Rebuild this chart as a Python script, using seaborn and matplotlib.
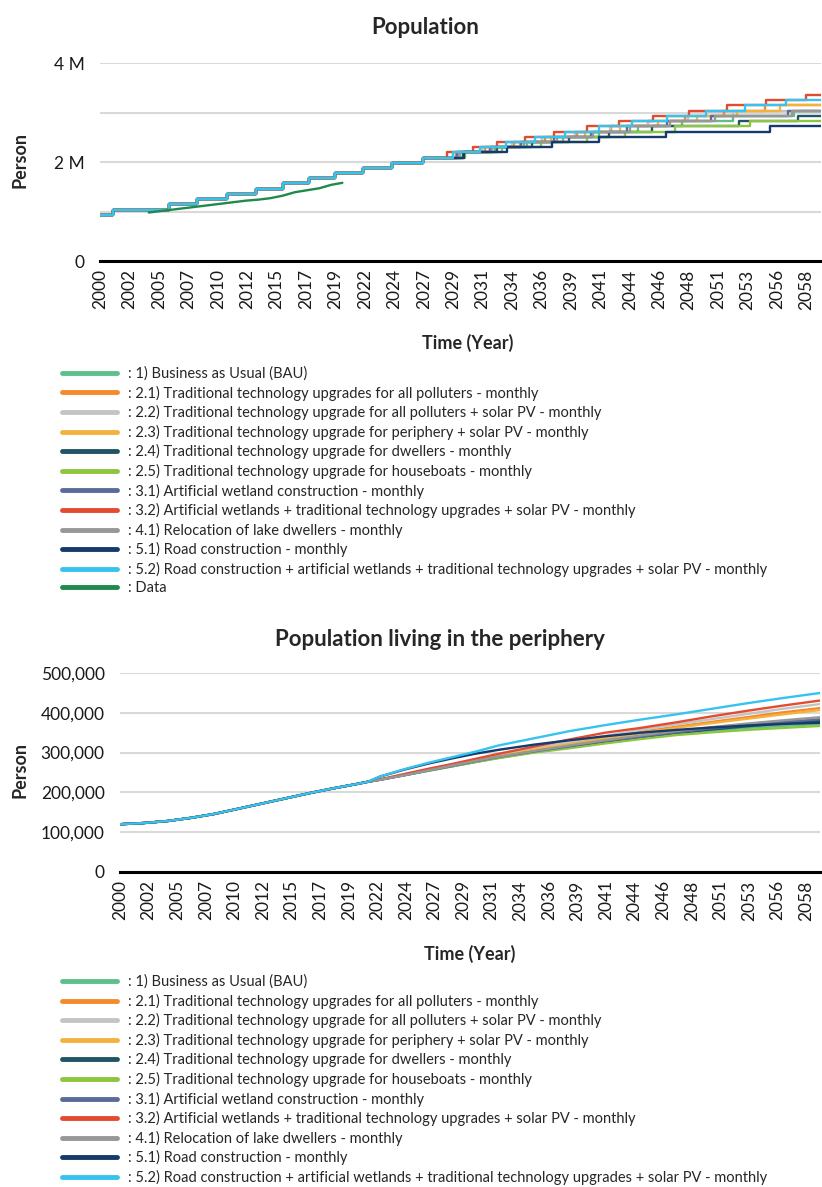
import matplotlib
matplotlib.use("Agg")
import numpy as np
import pandas as pd
import matplotlib.pyplot as plt
from matplotlib.lines import Line2D
from matplotlib.ticker import FuncFormatter
import seaborn as sns

sns.set_theme(style="white")
plt.rcParams["font.family"] = ["Lato", "DejaVu Sans"]

# ---------------------------------------------------------------- scenarios
scenario_labels = [
    ": 1) Business as Usual (BAU)",
    ": 2.1) Traditional technology upgrades for all polluters - monthly",
    ": 2.2) Traditional technology upgrade for all polluters + solar PV - monthly",
    ": 2.3) Traditional technology upgrade for periphery + solar PV - monthly",
    ": 2.4) Traditional technology upgrade for dwellers - monthly",
    ": 2.5) Traditional technology upgrade for houseboats - monthly",
    ": 3.1) Artificial wetland construction - monthly",
    ": 3.2) Artificial wetlands + traditional technology upgrades + solar PV - monthly",
    ": 4.1) Relocation of lake dwellers - monthly",
    ": 5.1) Road construction - monthly",
    ": 5.2) Road construction + artificial wetlands + traditional technology upgrades + solar PV - monthly",
]
data_label = ": Data"
scenario_colors = ["#5dbf8c", "#f58a2c", "#c4c4c4", "#f4b23c", "#1f5566", "#8cc63f",
                   "#5b6b99", "#e24b2f", "#979797", "#143b6c", "#36c3ef"]
data_color = "#1f8a4b"

# x axis ticks (every 29 months from Jan 2000) and their labels
tick_years = [2000 + k * 29 / 12 for k in range(25)]
tick_labels = ["2000", "2002", "2005", "2007", "2010", "2012", "2015", "2017", "2019",
               "2022", "2024", "2027", "2029", "2031", "2034", "2036", "2039", "2041",
               "2044", "2046", "2048", "2051", "2053", "2056", "2058"]

# ---------------------------------------------------------------- population (millions)
trunk_step_years = [2000.0, 2001.1, 2005.7, 2008.0, 2010.4, 2012.8, 2015.0, 2017.2,
                    2019.3, 2021.6, 2024.0, 2026.5]
trunk_levels = [0.93, 1.04, 1.15, 1.25, 1.35, 1.45, 1.57, 1.67, 1.78, 1.87, 1.99, 2.09]
later_levels = [2.20, 2.31, 2.40, 2.51, 2.61, 2.73, 2.83, 2.93, 3.04, 3.15, 3.25, 3.36]

bau_steps = [2029.6, 2032.4, 2035.1, 2038.0, 2041.0, 2044.2, 2047.8, 2052.0, 2057.0]
tt_all_steps = [2029.2, 2031.6, 2034.0, 2036.5, 2039.2, 2042.0, 2045.0, 2048.0, 2051.2, 2054.6]
tt_pv_steps = [2029.0, 2031.4, 2033.8, 2036.3, 2039.0, 2041.9, 2045.0, 2048.3, 2052.0]
tt_periph_steps = [2029.5, 2032.0, 2034.5, 2037.0, 2039.8, 2042.7, 2045.8, 2049.0, 2052.3, 2055.8]
tt_dwell_steps = [2029.8, 2032.6, 2035.5, 2038.5, 2041.8, 2045.3, 2052.5, 2057.3]
tt_boat_steps = [2030.0, 2033.0, 2036.2, 2040.0, 2043.1, 2047.2, 2053.4]
wetland_steps = [2029.3, 2032.0, 2034.6, 2037.3, 2040.3, 2043.3, 2046.6, 2050.2, 2056.5]
wetland_combo_steps = [2028.5, 2030.6, 2032.6, 2034.9, 2037.3, 2040.0, 2042.6, 2045.4,
                       2048.4, 2051.5, 2054.7, 2058.0]
relocation_steps = [2029.5, 2032.2, 2034.8, 2037.5, 2040.5, 2043.5, 2046.8, 2050.5, 2056.8]
road_steps = [2029.9, 2033.4, 2037.1, 2041.0, 2046.5, 2055.0]
road_combo_steps = [2029.0, 2031.2, 2033.3, 2035.7, 2038.2, 2041.0, 2043.7, 2046.6,
                    2049.8, 2053.0, 2056.3]

pop_steps = [bau_steps, tt_all_steps, tt_pv_steps, tt_periph_steps, tt_dwell_steps,
             tt_boat_steps, wetland_steps, wetland_combo_steps, relocation_steps,
             road_steps, road_combo_steps]

data_years = [2004, 2005, 2006, 2007, 2008, 2009, 2010, 2011, 2012, 2013, 2014, 2015,
              2016, 2017, 2018, 2019, 2019.9]
data_pop_m = [0.98, 1.01, 1.04, 1.07, 1.10, 1.13, 1.16, 1.19, 1.22, 1.24, 1.27, 1.32,
              1.39, 1.43, 1.47, 1.54, 1.58]

# ---------------------------------------------------------------- periphery (thousands)
periph_trunk_years = [2000, 2002, 2004, 2006, 2008, 2010, 2012, 2014, 2016, 2018, 2020, 2021]
periph_trunk_k = [120, 123, 128, 136, 146, 159, 172, 185, 198, 210, 221, 227]
periph_years = [2022, 2024, 2026, 2028, 2030, 2032, 2035, 2038, 2041, 2044, 2047, 2050,
                2053, 2056, 2059.2]

bau_periph = [232, 243, 254, 265, 276, 287, 301, 313, 325, 336, 346, 355, 362, 367, 372]
tt_all_periph = [232, 244, 256, 268, 281, 292, 309, 323, 338, 352, 365, 377, 389, 401, 412]
tt_pv_periph = [232, 244, 256, 268, 281, 293, 310, 326, 342, 357, 371, 384, 397, 410, 422]
tt_periph_periph = [232, 244, 256, 268, 280, 291, 307, 321, 335, 349, 362, 374, 385, 396, 407]
tt_dwell_periph = [232, 243, 255, 266, 277, 288, 302, 315, 327, 338, 349, 358, 366, 373, 380]
tt_boat_periph = [232, 243, 254, 265, 276, 286, 300, 311, 323, 334, 344, 351, 357, 362, 367]
wetland_periph = [232, 243, 255, 266, 278, 289, 303, 316, 329, 340, 351, 361, 370, 377, 384]
wetland_combo_periph = [233, 246, 259, 271, 284, 297, 315, 333, 350, 362, 376, 391, 405, 418, 431]
relocation_periph = [232, 243, 255, 267, 279, 290, 304, 318, 331, 343, 354, 364, 373, 381, 389]
road_periph = [240, 257, 272, 285, 297, 307, 320, 331, 341, 350, 357, 363, 368, 372, 375]
road_combo_periph = [240, 258, 274, 288, 302, 318, 336, 354, 369, 383, 396, 410, 424, 437, 450]

periph_series = [bau_periph, tt_all_periph, tt_pv_periph, tt_periph_periph, tt_dwell_periph,
                 tt_boat_periph, wetland_periph, wetland_combo_periph, relocation_periph,
                 road_periph, road_combo_periph]

X_MAX = 2059.2
GRID = "#d9d9d9"
TICK_FS = 12.5

fig = plt.figure(figsize=(8.22, 11.87), dpi=100)
ax1 = fig.add_axes([0.1217, 0.7801, 0.877, 0.1668])
ax2 = fig.add_axes([0.146, 0.2654, 0.852, 0.1676])

# ---- population step lines
frames = []
for label, steps in zip(scenario_labels, pop_steps):
    yrs = trunk_step_years + steps + [2060.0]
    lv = trunk_levels + later_levels[:len(steps)]
    lv = lv + [lv[-1]]
    frames.append(pd.DataFrame({"year": yrs, "pop": np.array(lv) * 1e6, "scenario": label}))
pop_df = pd.concat(frames, ignore_index=True)
for label, color in zip(scenario_labels, scenario_colors):
    sns.lineplot(data=pop_df[pop_df.scenario == label], x="year", y="pop", ax=ax1,
                 color=color, lw=1.7, drawstyle="steps-post", estimator=None,
                 legend=False)
data_df = pd.DataFrame({"year": data_years, "pop": np.array(data_pop_m) * 1e6})
sns.lineplot(data=data_df, x="year", y="pop", ax=ax1, color=data_color, lw=1.7,
             estimator=None, legend=False)

# ---- periphery lines
frames = []
for label, vals in zip(scenario_labels, periph_series):
    yrs = periph_trunk_years + periph_years
    vv = np.array(periph_trunk_k + vals) * 1e3
    frames.append(pd.DataFrame({"year": yrs, "pop": vv, "scenario": label}))
periph_df = pd.concat(frames, ignore_index=True)
for label, color in zip(scenario_labels, scenario_colors):
    sns.lineplot(data=periph_df[periph_df.scenario == label], x="year", y="pop", ax=ax2,
                 color=color, lw=1.7, estimator=None, legend=False)

# ---- axes styling
for ax in (ax1, ax2):
    ax.set_xlim(2000, X_MAX)
    ax.set_xticks(tick_years)
    ax.set_xticklabels(tick_labels, rotation=90, fontsize=TICK_FS)
    ax.set_xlabel("")
    ax.set_ylabel("")
    for s in ("top", "right", "left"):
        ax.spines[s].set_visible(False)
    ax.spines["bottom"].set_color("black")
    ax.spines["bottom"].set_linewidth(2.2)
    ax.tick_params(axis="both", length=0, labelsize=TICK_FS, colors="#1a1a1a")
    ax.tick_params(axis="x", pad=6)
    ax.tick_params(axis="y", pad=11)
    ax.grid(axis="y", color=GRID, lw=1.5)
    ax.grid(axis="x", visible=False)
    ax.set_axisbelow(True)

ax1.set_ylim(0, 4e6)
ax1.set_yticks([0, 1e6, 2e6, 3e6, 4e6])
ax1.set_yticklabels(["0", "", "2 M", "", "4 M"])

ax2.set_ylim(0, 5e5)
ax2.set_yticks(np.arange(0, 500001, 100000))
ax2.yaxis.set_major_formatter(FuncFormatter(lambda v, p: f"{int(v):,}"))

# ---- titles and axis labels
fig.text(0.517, 0.977, "Population", ha="center", va="center", fontsize=16, fontweight="bold")
fig.text(0.535, 0.4615, "Population living in the periphery", ha="center", va="center",
         fontsize=16, fontweight="bold")
fig.text(0.569, 0.711, "Time (Year)", ha="center", va="center", fontsize=13, fontweight="bold")
fig.text(0.572, 0.1963, "Time (Year)", ha="center", va="center", fontsize=13, fontweight="bold")
fig.text(0.0243, 0.865, "Person", ha="center", va="center", rotation=90, fontsize=13,
         fontweight="bold")
fig.text(0.0243, 0.3513, "Person", ha="center", va="center", rotation=90, fontsize=13,
         fontweight="bold")

# ---- legends
def handles(colors):
    return [Line2D([0], [0], color=c, lw=3.5) for c in colors]

leg_kw = dict(loc="upper left", frameon=False, fontsize=10.5, handlelength=3.77,
              handletextpad=0.75, labelspacing=0.31, borderpad=0, borderaxespad=0)
fig.legend(handles(scenario_colors + [data_color]), scenario_labels + [data_label],
           bbox_to_anchor=(0.0754, 0.6911), **leg_kw)
fig.legend(handles(scenario_colors), scenario_labels,
           bbox_to_anchor=(0.0754, 0.1788), **leg_kw)

fig.savefig("out.png", dpi=100)
